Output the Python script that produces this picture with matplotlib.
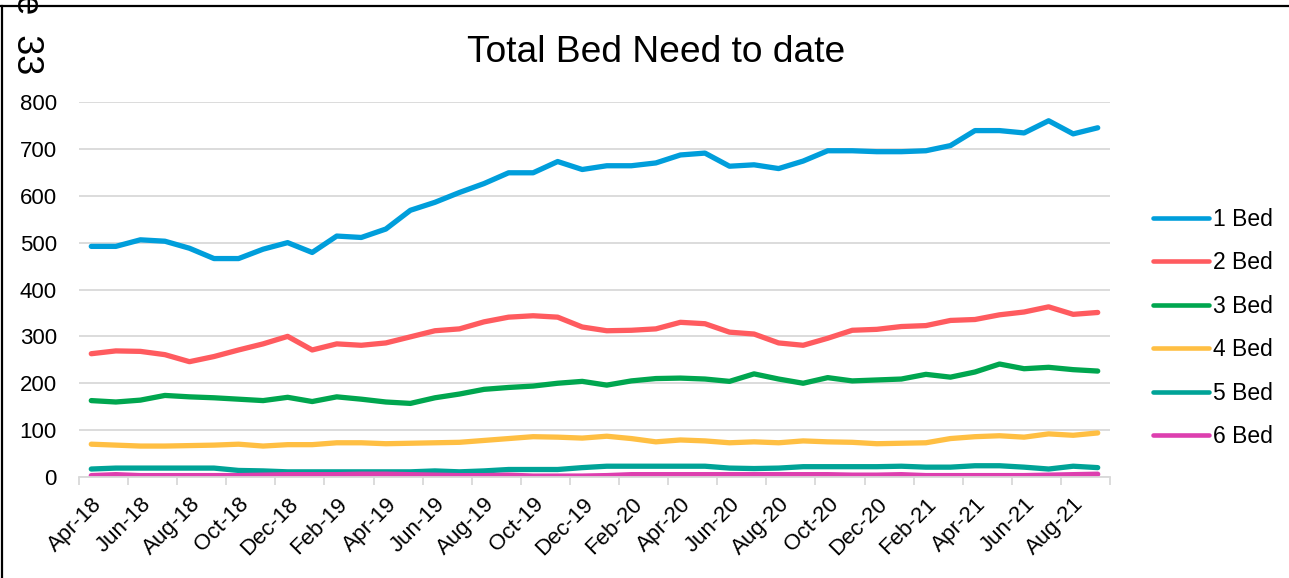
import matplotlib
matplotlib.use("Agg")
import matplotlib.pyplot as plt
from matplotlib.lines import Line2D
import numpy as np

months = ["Apr-18", "May-18", "Jun-18", "Jul-18", "Aug-18", "Sep-18", "Oct-18", "Nov-18", "Dec-18",
          "Jan-19", "Feb-19", "Mar-19", "Apr-19", "May-19", "Jun-19", "Jul-19", "Aug-19", "Sep-19",
          "Oct-19", "Nov-19", "Dec-19", "Jan-20", "Feb-20", "Mar-20", "Apr-20", "May-20", "Jun-20",
          "Jul-20", "Aug-20", "Sep-20", "Oct-20", "Nov-20", "Dec-20", "Jan-21", "Feb-21", "Mar-21",
          "Apr-21", "May-21", "Jun-21", "Jul-21", "Aug-21", "Sep-21"]

bed1 = [492, 492, 506, 503, 488, 466, 466, 486, 500, 479, 514, 511,
        529, 569, 586, 607, 626, 649, 649, 673, 656, 664, 664, 670,
        687, 691, 663, 666, 658, 674, 696, 696, 694, 694, 696, 707,
        739, 739, 734, 760, 732, 745]
bed2 = [263, 269, 268, 261, 246, 257, 271, 284, 300, 271, 284, 281,
        286, 299, 312, 316, 331, 341, 344, 341, 320, 312, 313, 316,
        330, 327, 309, 305, 286, 281, 296, 313, 315, 321, 323, 334,
        336, 346, 352, 363, 347, 351]
bed3 = [163, 160, 164, 174, 171, 169, 166, 163, 170, 161, 171, 166,
        160, 157, 169, 177, 187, 191, 194, 200, 204, 196, 205, 210,
        211, 209, 204, 220, 209, 200, 212, 205, 207, 209, 219, 213,
        224, 241, 231, 234, 229, 226]
bed4 = [70, 68, 66, 66, 67, 68, 70, 66, 69, 69, 73, 73,
        71, 72, 73, 74, 78, 82, 86, 85, 83, 87, 82, 75,
        79, 77, 73, 75, 73, 77, 75, 74, 71, 72, 73, 82,
        86, 88, 85, 92, 89, 94]
bed5 = [17, 19, 19, 19, 19, 19, 14, 13, 11, 11, 11, 11,
        11, 11, 13, 11, 13, 16, 16, 16, 20, 23, 23, 23,
        23, 23, 19, 18, 19, 22, 22, 22, 22, 23, 21, 21,
        24, 24, 21, 17, 23, 20]
bed6 = [3, 5, 3, 3, 3, 3, 3, 4, 5, 5, 5, 6,
        6, 5, 4, 3, 3, 4, 2, 2, 2, 3, 5, 5,
        5, 5, 5, 5, 5, 5, 5, 4, 4, 5, 3, 3,
        3, 3, 3, 4, 5, 6]

series_names = ["1 Bed", "2 Bed", "3 Bed", "4 Bed", "5 Bed", "6 Bed"]
series_values = [bed1, bed2, bed3, bed4, bed5, bed6]
series_colors = ["#009EDB", "#FF5B5F", "#00A64F", "#FFBF43", "#00A397", "#DD3FAF"]
y_ticks = [0, 100, 200, 300, 400, 500, 600, 700, 800]

plt.rcParams['font.family'] = ['Liberation Sans', 'DejaVu Sans']

W, H = 1289, 578
fig = plt.figure(figsize=(W / 100, H / 100), dpi=100)
ax = fig.add_axes([79 / W, (H - 477) / H, 1031 / W, 375 / H])

x = np.arange(len(months))
for name, vals, col in zip(series_names, series_values, series_colors):
    ax.plot(x, vals, color=col, lw=3.8, label=name,
            solid_capstyle='round', solid_joinstyle='round')

ax.set_xlim(-0.5, len(months) - 0.5)
ax.set_ylim(y_ticks[0], y_ticks[-1])
ax.set_yticks(y_ticks)
ax.yaxis.grid(True, color='#D9D9D9', lw=1.3)
ax.set_axisbelow(True)
for s in ['top', 'right', 'left']:
    ax.spines[s].set_visible(False)
ax.spines['bottom'].set_color('#D9D9D9')
ax.spines['bottom'].set_linewidth(1.3)
ax.tick_params(axis='y', length=0, pad=16, labelsize=16)

ax.set_xticks(x[::2])
ax.set_xticklabels(months[::2], rotation=45, ha='right', va='top',
                   rotation_mode='anchor', fontsize=16)
ax.tick_params(axis='x', which='major', length=0, pad=12)
ax.set_xticks(np.arange(-0.5, len(months) + 0.5, 2), minor=True)
ax.tick_params(axis='x', which='minor', length=6, color='#D9D9D9', width=1.3)

leg = ax.legend(loc='center left', bbox_to_anchor=(1153 / W, 1 - 328 / H),
                bbox_transform=fig.transFigure, frameon=False, fontsize=16.5,
                handlelength=2.45, handletextpad=0.15, labelspacing=0.89,
                borderpad=0, borderaxespad=0)
for line in leg.get_lines():
    line.set_linewidth(3.3)
    line.set_solid_capstyle('round')

fig.text(656 / W, 1 - 62 / H, "Total Bed Need to date", ha='center', va='baseline',
         fontsize=26.7)

fig.text(17 / W, 1 - 74 / H, "Page  33", rotation=-90, rotation_mode='anchor',
         ha='right', va='baseline', fontsize=26)

fig.add_artist(Line2D([0, 1], [1 - 6 / H, 1 - 6 / H], transform=fig.transFigure,
                      color='black', lw=1.6))
fig.add_artist(Line2D([1.5 / W, 1.5 / W], [0, 1 - 6 / H], transform=fig.transFigure,
                      color='black', lw=1.6))

fig.savefig("out.png", dpi=100)
